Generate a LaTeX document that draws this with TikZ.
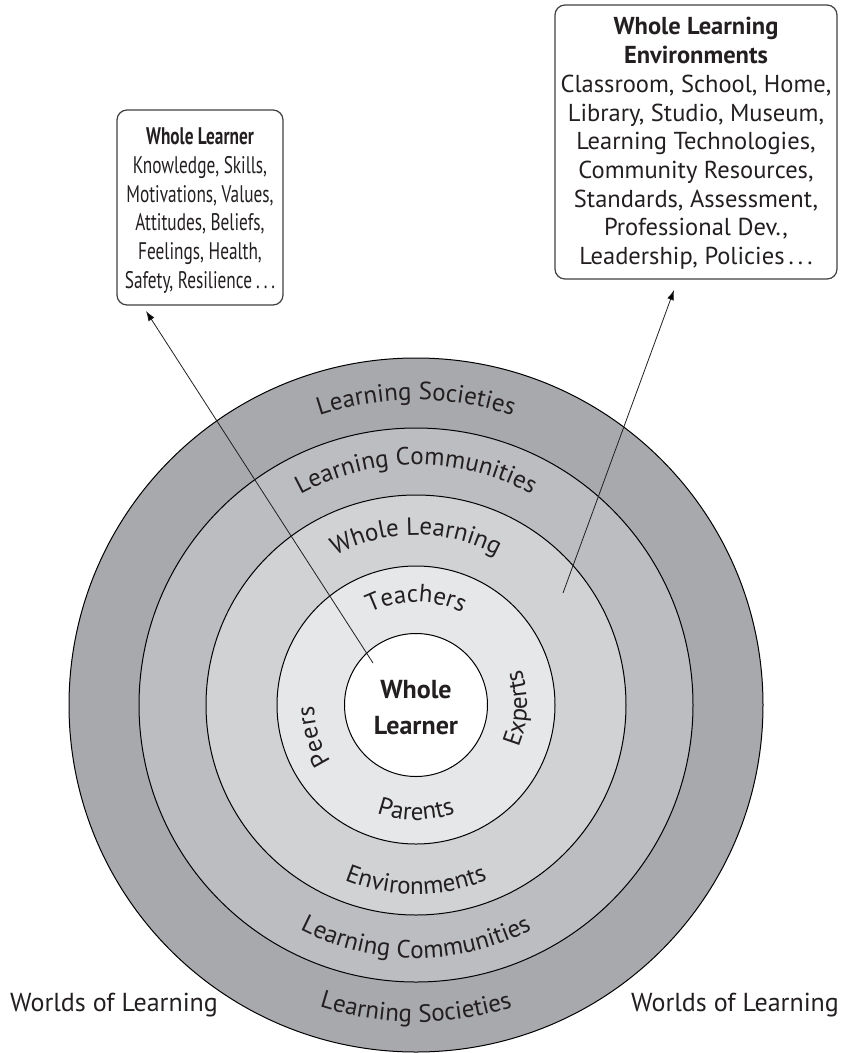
\documentclass[tikz,border=0pt]{standalone}
\usepackage{fontspec}
\setmainfont{PT Sans}
\newfontfamily\boxnarrow{PT Sans}[FakeStretch=0.72]
\usetikzlibrary{arrows.meta,decorations.text,calc}
\definecolor{ringA}{RGB}{168,169,172}
\definecolor{ringB}{RGB}{188,189,192}
\definecolor{ringC}{RGB}{209,210,212}
\definecolor{ringD}{RGB}{230,231,232}
\definecolor{ink}{RGB}{35,31,32}
\newcommand\ringfont{\fontsize{25}{28}\selectfont}
\begin{document}
\begin{tikzpicture}[x=1pt,y=1pt,
  ring/.style={circle, draw=black, line width=1pt, inner sep=0pt},
  infobox/.style={draw=black!75, line width=1.2pt, rounded corners=10pt, inner sep=0pt},
  boxtext/.style={align=center, text=ink, inner sep=0pt},
  ringlabel/.style={decorate, decoration={text along path, text align=center, text color=ink}},
  pointer/.style={draw=ink, line width=0.8pt, -{Latex[length=10pt,width=7pt]}},
  plain/.style={font=\fontsize{26}{28}\selectfont, text=ink, inner sep=0pt}
]
\useasboundingbox (0,0) rectangle (846,-1053);
\coordinate (C) at (416,-705);
% rings
\node[ring, fill=ringA, minimum size=694] (soc) at (C) {};
\node[ring, fill=ringB, minimum size=554] (com) at (C) {};
\node[ring, fill=ringC, minimum size=420] (env) at (C) {};
\node[ring, fill=ringD, minimum size=278] (peo) at (C) {};
\node[ring, fill=white, minimum size=143] (wl) at (C) {};
\node[align=center, inner sep=0pt, font=\fontsize{26}{36}\selectfont\bfseries, text=ink]
  (wltext) at ($(C)+(0,-3)$) {Whole\\Learner};
% ring labels
\path[ringlabel, decoration={text={|\ringfont|Learning Societies}}]
  ($(C)+(150:305)$) arc[start angle=150, end angle=30, radius=305];
\path[ringlabel, decoration={text={|\ringfont|Learning Societies}}]
  ($(C)+(210:317)$) arc[start angle=210, end angle=330, radius=317];
\path[ringlabel, decoration={text={|\ringfont|Learning Communities}}]
  ($(C)+(150:240)$) arc[start angle=150, end angle=30, radius=240];
\path[ringlabel, decoration={text={|\ringfont|Learning Communities}}]
  ($(C)+(210:253)$) arc[start angle=210, end angle=330, radius=253];
\path[ringlabel, decoration={text={|\ringfont|Whole Learning}}]
  ($(C)+(150:170)$) arc[start angle=150, end angle=30, radius=170];
\path[ringlabel, decoration={text={|\ringfont|Environments}}]
  ($(C)+(210:189)$) arc[start angle=210, end angle=330, radius=189];
\path[ringlabel, decoration={text={|\ringfont|Teachers}}]
  ($(C)+(150:103)$) arc[start angle=150, end angle=30, radius=103];
\path[ringlabel, decoration={text={|\ringfont|Parents}}]
  ($(C)+(210:115)$) arc[start angle=210, end angle=330, radius=115];
\path[ringlabel, decoration={text={|\ringfont|Peers}}]
  ($(C)+(237:102)$) arc[start angle=237, end angle=157, radius=102];
\path[ringlabel, decoration={text={|\ringfont|Experts}}]
  ($(C)+(-42:111)$) arc[start angle=-42, end angle=38, radius=111];
% boxes
\node[infobox, minimum width=166, minimum height=195] (lbox) at (200,-207.5) {};
\node[boxtext, font=\boxnarrow\fontsize{24}{28.8}\selectfont] (ltext) at (200,-210.5)
  {\textbf{Whole Learner}\\Knowledge, Skills,\\Motivations, Values,\\Attitudes, Beliefs,\\Feelings, Health,\\Safety, Resilience\,.\,.\,.};
\node[infobox, minimum width=282, minimum height=274] (rbox) at (696,-142) {};
\node[boxtext, font=\fontsize{24.5}{28.7}\selectfont] (rtext) at (696,-143.5)
  {\textbf{Whole Learning}\\\textbf{Environments}\\Classroom, School, Home,\\Library, Studio, Museum,\\Learning Technologies,\\Community Resources,\\Standards, Assessment,\\Professional Dev.,\\Leadership, Policies\,.\,.\,.};
% arrows
\coordinate (a1s) at (373,-663);
\coordinate (a1e) at (146,-311);
\coordinate (a2s) at (563,-593);
\coordinate (a2e) at (674,-290);
\draw[pointer] (a1s) -- (a1e);
\draw[pointer] (a2s) -- (a2e);
% worlds
\node[plain] (wl1) at (114,-1005) {Worlds of Learning};
\node[plain] (wl2) at (735,-1005) {Worlds of Learning};
\end{tikzpicture}
\end{document}
